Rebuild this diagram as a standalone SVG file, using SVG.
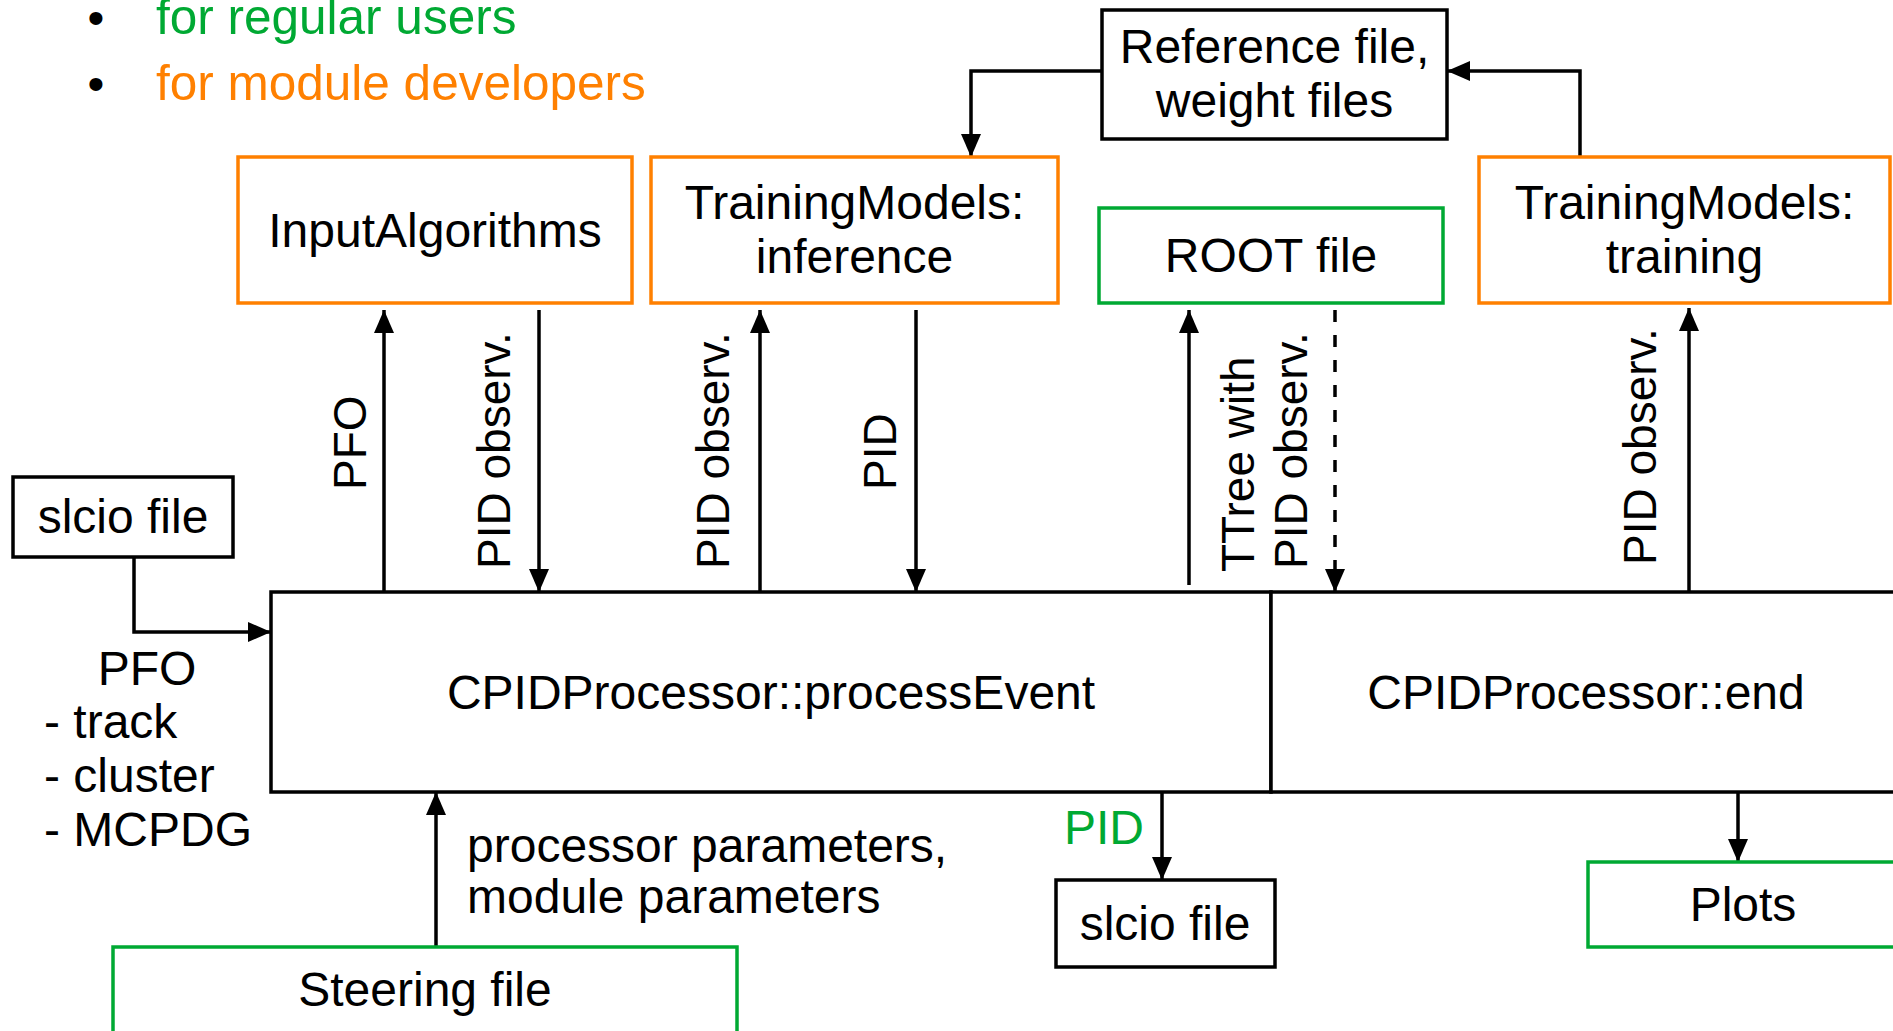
<svg xmlns="http://www.w3.org/2000/svg" width="1893" height="1031" viewBox="0 0 1893 1031">
<style>
text{font-family:"Liberation Sans",Arial,sans-serif;font-size:48px;fill:#000}
.m{text-anchor:middle}
.r{font-size:46px}
.lg{font-size:49.5px}
.box{fill:#fff;stroke:#000;stroke-width:3.5}
.or{fill:#fff;stroke:#ff8000;stroke-width:3.5}
.gr{fill:#fff;stroke:#00a933;stroke-width:3.5}
.c{fill:none;stroke:#000;stroke-width:3.5;marker-end:url(#ah)}
.g{fill:#00a933}
.o{fill:#ff8000}
</style>
<defs>
<marker id="ah" markerUnits="userSpaceOnUse" markerWidth="24" markerHeight="20" refX="23" refY="10" orient="auto">
<path d="M0,0 L23,10 L0,20 z" fill="#000"/>
</marker>
</defs>
<rect width="1893" height="1031" fill="#fff"/>
<g id="legend">
<text x="96" y="34" class="m">•</text>
<text x="156" y="34" class="g lg">for regular users</text>
<text x="96" y="100" class="m">•</text>
<text x="156" y="100" class="o lg">for module developers</text>
</g>
<g id="connectors">
<path class="c" d="M134,557 V632 H271"/>
<path class="c" d="M1102,71 H971 V157"/>
<path class="c" d="M1580,157 V71 H1447"/>
<path class="c" d="M384,592 V310"/>
<path class="c" d="M539,310 V592"/>
<path class="c" d="M760,592 V310"/>
<path class="c" d="M916,310 V592"/>
<path class="c" d="M1189,585 V310"/>
<path class="c" d="M1335,310 V592" stroke-dasharray="12,13"/>
<path class="c" d="M1689,592 V308"/>
<path class="c" d="M436,947 V792"/>
<path class="c" d="M1162,792 V880"/>
<path class="c" d="M1738,792 V862"/>
</g>
<g id="labels">
<text class="r" transform="translate(366,490) rotate(-90)">PFO</text>
<text class="r" transform="translate(510,569) rotate(-90)">PID observ.</text>
<text class="r" transform="translate(729,569) rotate(-90)">PID observ.</text>
<text class="r" transform="translate(896,490) rotate(-90)">PID</text>
<text class="r" transform="translate(1254,572) rotate(-90)">TTree with</text>
<text class="r" transform="translate(1307,569) rotate(-90)">PID observ.</text>
<text class="r" transform="translate(1656,565) rotate(-90)">PID observ.</text>
<text x="147" y="685" class="m">PFO</text>
<text x="44" y="738">- track</text>
<text x="44" y="792">- cluster</text>
<text x="44" y="846">- MCPDG</text>
<text x="467" y="862">processor parameters,</text>
<text x="467" y="913">module parameters</text>
<text x="1064" y="844" class="g">PID</text>
</g>
<g id="ref-files">
<rect class="box" x="1102" y="10" width="345" height="129"/>
<text x="1274.5" y="63" class="m">Reference file,</text>
<text x="1274.5" y="117" class="m">weight files</text>
</g>
<g id="input-algorithms">
<rect class="or" x="238" y="157" width="394" height="146"/>
<text x="435" y="247" class="m">InputAlgorithms</text>
</g>
<g id="tm-inference">
<rect class="or" x="651" y="157" width="407" height="146"/>
<text x="854.5" y="219" class="m">TrainingModels:</text>
<text x="854.5" y="273" class="m">inference</text>
</g>
<g id="root-file">
<rect class="gr" x="1099" y="208" width="344" height="95"/>
<text x="1271" y="272" class="m">ROOT file</text>
</g>
<g id="tm-training">
<rect class="or" x="1479" y="157" width="411" height="146"/>
<text x="1684.5" y="219" class="m">TrainingModels:</text>
<text x="1684.5" y="273" class="m">training</text>
</g>
<g id="slcio-in">
<rect class="box" x="13" y="477" width="220" height="80"/>
<text x="123" y="533" class="m">slcio file</text>
</g>
<g id="process-event">
<rect class="box" x="271" y="592" width="1000" height="200"/>
<text x="771" y="709" class="m">CPIDProcessor::processEvent</text>
</g>
<g id="end">
<rect class="box" x="1271" y="592" width="640" height="200"/>
<text x="1586" y="709" class="m">CPIDProcessor::end</text>
</g>
<g id="steering">
<rect class="gr" x="113" y="947" width="624" height="100"/>
<text x="425" y="1006" class="m">Steering file</text>
</g>
<g id="slcio-out">
<rect class="box" x="1056" y="880" width="219" height="87"/>
<text x="1165" y="940" class="m">slcio file</text>
</g>
<g id="plots">
<rect class="gr" x="1588" y="862" width="320" height="85"/>
<text x="1743" y="921" class="m">Plots</text>
</g>
</svg>
